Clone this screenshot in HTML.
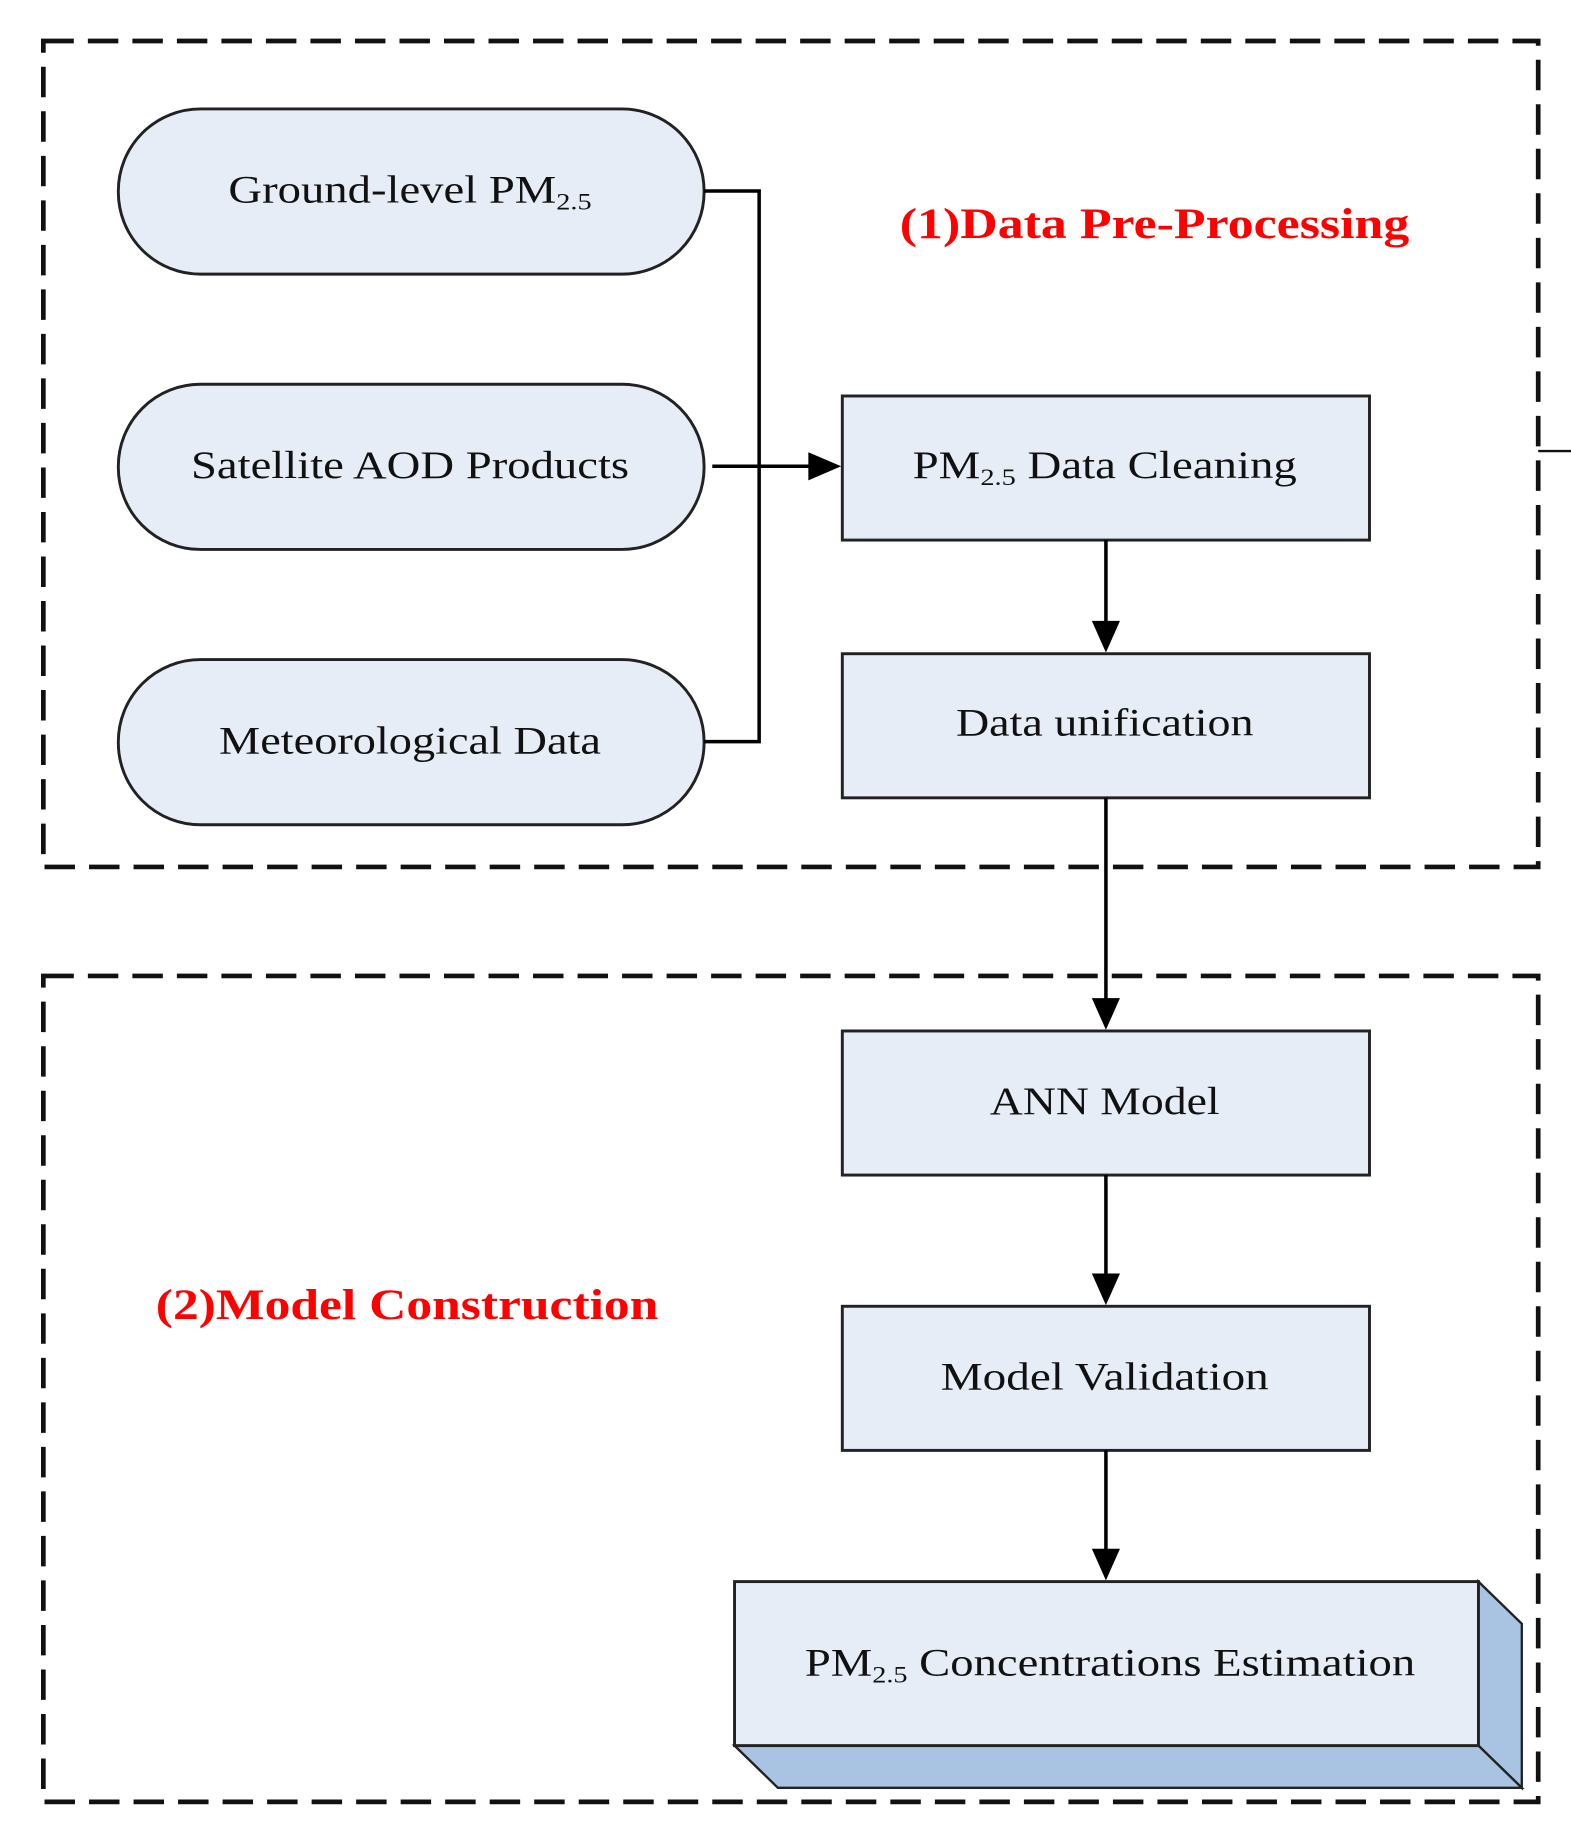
<!DOCTYPE html>
<html><head><meta charset="utf-8"><style>
html,body{margin:0;padding:0;background:#fff;}
svg{display:block;}
text{font-family:"Liberation Serif",serif;}
</style></head><body>
<svg width="1571" height="1837" viewBox="0 0 1341 1568" preserveAspectRatio="none" xmlns="http://www.w3.org/2000/svg">
<g fill="none" stroke="#111" stroke-width="4" stroke-dasharray="26,12">
<rect x="37" y="35" width="1276" height="705"/>
<rect x="37" y="833" width="1276" height="705"/>
</g>
<line x1="1313" y1="385" x2="1341" y2="385" stroke="#111" stroke-width="2"/>
<g fill="#e6edf7" stroke="#222" stroke-width="2.5">
<rect x="101" y="93" width="500" height="141" rx="70"/>
<rect x="101" y="328" width="500" height="141" rx="70"/>
<rect x="101" y="563" width="500" height="141" rx="70"/>
<rect x="719" y="338" width="450" height="123"/>
<rect x="719" y="558" width="450" height="123"/>
<rect x="719" y="880" width="450" height="123"/>
<rect x="719" y="1115" width="450" height="123"/>
</g>
<polygon points="1262,1350 1299,1386 1299,1526 1262,1490" fill="#a8c4e2" stroke="#222" stroke-width="2"/>
<polygon points="627,1490 1262,1490 1299,1526 664,1526" fill="#a8c4e2" stroke="#222" stroke-width="2"/>
<rect x="627" y="1350" width="635" height="140" fill="#e6edf7" stroke="#222" stroke-width="2.5"/>
<g stroke="#000" stroke-width="3" fill="none">
<polyline points="601,163 648,163 648,633 601,633"/>
<line x1="608" y1="398" x2="695" y2="398"/>
<line x1="944" y1="461" x2="944" y2="535"/>
<line x1="944" y1="681" x2="944" y2="857"/>
<line x1="944" y1="1003" x2="944" y2="1092"/>
<line x1="944" y1="1238" x2="944" y2="1327"/>
</g>
<g fill="#000">
<polygon points="718,398 690,386 690,410"/>
<polygon points="944,557 932,530 956,530"/>
<polygon points="944,879 932,852 956,852"/>
<polygon points="944,1114 932,1087 956,1087"/>
<polygon points="944,1349 932,1322 956,1322"/>
</g>
<g font-size="33" fill="#111" lengthAdjust="spacingAndGlyphs">
<text x="195" y="173" textLength="310" lengthAdjust="spacingAndGlyphs">Ground-level PM<tspan font-size="20" dy="6">2.5</tspan></text>
<text x="163" y="408" textLength="374" lengthAdjust="spacingAndGlyphs">Satellite AOD Products</text>
<text x="187" y="643" textLength="326" lengthAdjust="spacingAndGlyphs">Meteorological Data</text>
<text x="779" y="408" textLength="328" lengthAdjust="spacingAndGlyphs">PM<tspan font-size="20" dy="6">2.5</tspan><tspan dy="-6"> Data Cleaning</tspan></text>
<text x="816" y="628" textLength="254" lengthAdjust="spacingAndGlyphs">Data unification</text>
<text x="845" y="951" textLength="196" lengthAdjust="spacingAndGlyphs">ANN Model</text>
<text x="803" y="1186" textLength="280" lengthAdjust="spacingAndGlyphs">Model Validation</text>
<text x="687" y="1430" textLength="521" lengthAdjust="spacingAndGlyphs">PM<tspan font-size="20" dy="6">2.5</tspan><tspan dy="-6"> Concentrations Estimation</tspan></text>
</g>
<g font-size="37" font-weight="bold" fill="#ff0000">
<text x="768" y="203" textLength="435" lengthAdjust="spacingAndGlyphs">(1)Data Pre-Processing</text>
<text x="133" y="1126" textLength="429" lengthAdjust="spacingAndGlyphs">(2)Model Construction</text>
</g>
</svg>
</body></html>
